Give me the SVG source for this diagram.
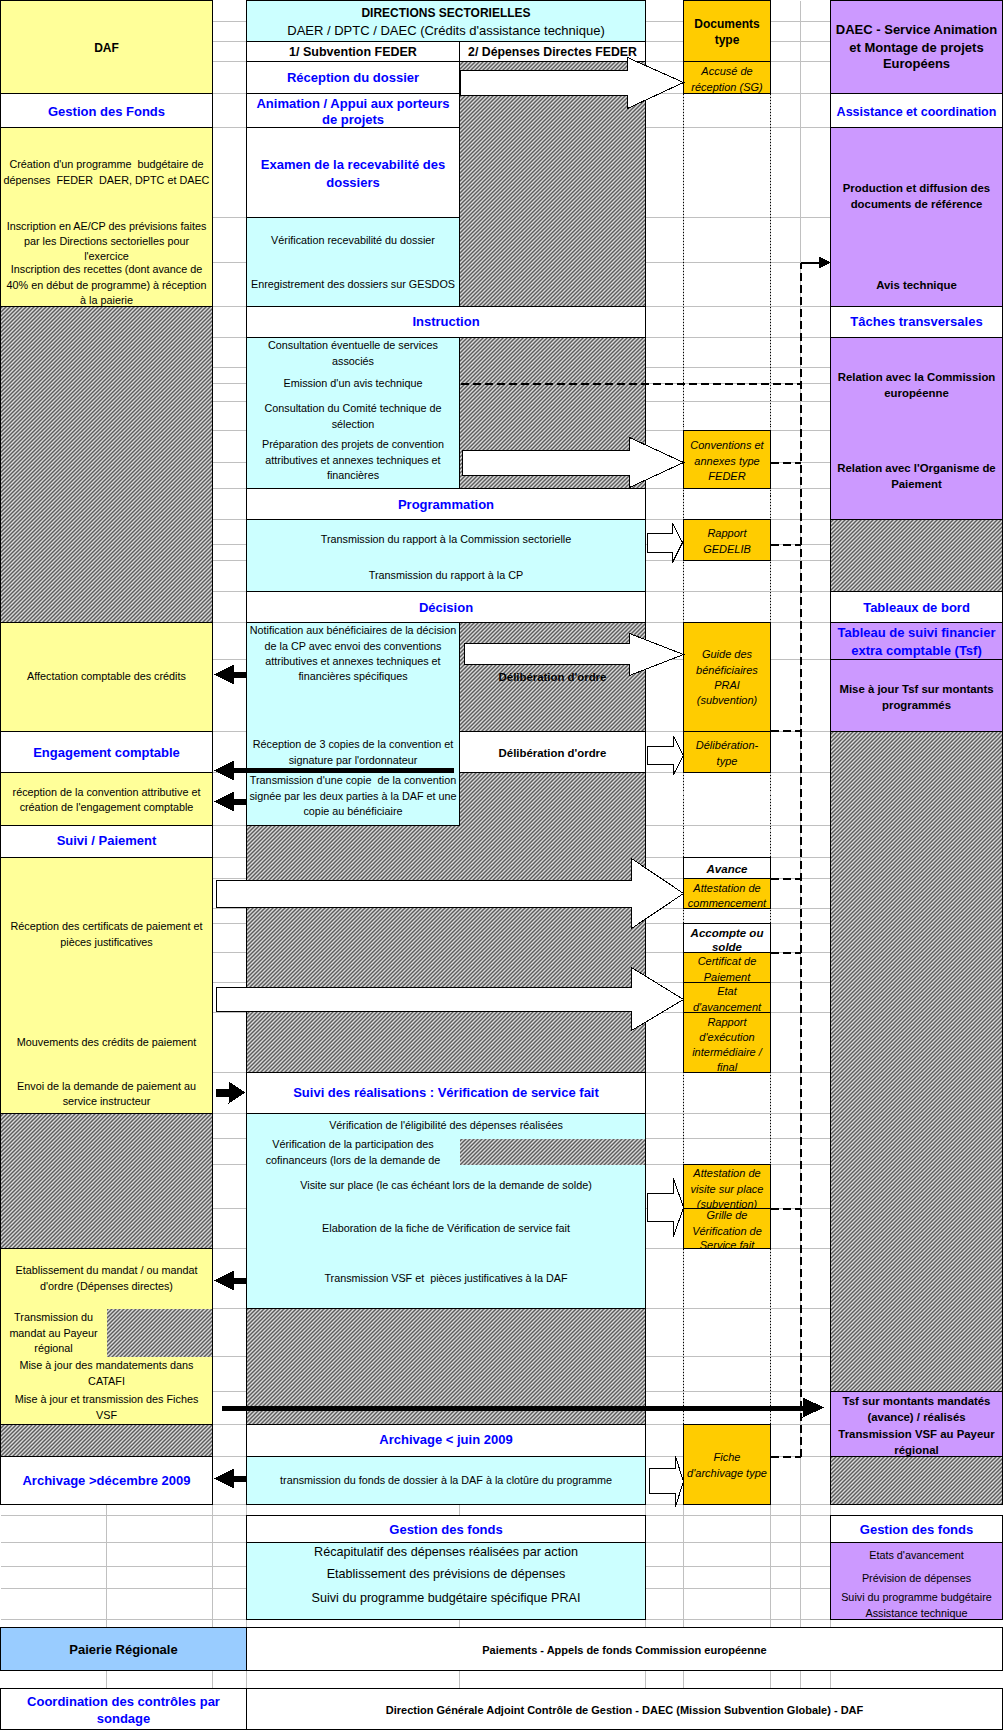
<svg xmlns="http://www.w3.org/2000/svg" width="1003" height="1730" viewBox="0 0 1003 1730">
<style>
.t{font-family:"Liberation Sans",Arial,sans-serif;font-size:10.8px;text-anchor:middle;fill:#000}
.h{font-weight:bold;font-size:13px;fill:#0000FF}
.b{font-weight:bold;font-size:12px}
.bs{font-weight:bold;font-size:11.4px}
.i{font-style:italic;font-size:11px}
.bi{font-weight:bold;font-style:italic;font-size:11.5px}
.c{stroke:#000;stroke-width:1}
.y{fill:#FFFF99}.cy{fill:#CCFFFF}.o{fill:#FFCC00}.p{fill:#CC99FF}.w{fill:#FFFFFF}.lb{fill:#99CCFF}.hx{fill:url(#hatch)}
.ol{fill:none;stroke:#000;stroke-width:1}
.grid{stroke:#C0C0C0;stroke-width:1;fill:none}
.dot{stroke:#000;stroke-width:1;stroke-dasharray:1 2;fill:none}
.dash{stroke:#000;stroke-width:2;stroke-dasharray:8 4;fill:none}
.blk{fill:#FFFFFF;stroke:#000;stroke-width:1}
.arr{fill:#000}
</style>
<defs>
<pattern id="hatch" width="4" height="4" patternUnits="userSpaceOnUse">
<rect width="4" height="4" fill="#FFFFFF"/>
<path d="M-1,1 L1,-1 M0,4 L4,0 M3,5 L5,3" stroke="#000" stroke-width="1.2"/>
</pattern>
</defs>
<rect x="0" y="0" width="1003" height="1730" fill="#FFFFFF"/>
<g transform="translate(0.5,0.5)" shape-rendering="crispEdges">
<g id="gridlines">
<path class="grid" d="M0,21H1002M0,41H1002M0,61H1002M0,93H1002M0,127H1002M0,217H1002M0,262H1002M0,306H1002M0,337H1002M0,367H1002M0,383H1002M0,401H1002M0,430H1002M0,462H1002M0,488H1002M0,519H1002M0,544H1002M0,560H1002M0,591H1002M0,622H1002M0,659H1002M0,731H1002M0,772H1002M0,825H1002M0,857H1002M0,878H1002M0,908H1002M0,923H1002M0,952H1002M0,982H1002M0,1012H1002M0,1072H1002M0,1113H1002M0,1138H1002M0,1164H1002M0,1208H1002M0,1248H1002M0,1308H1002M0,1356H1002M0,1391H1002M0,1424H1002M0,1456H1002M0,1504H1002M0,1515H1002M0,1542H1002M0,1566H1002M0,1588H1002M0,1619H1002M0,1627H1002M0,1670H1002M0,1688H1002"/>
<path class="grid" d="M106,0V1730M212,0V1730M246,0V1730M459,0V1730M645,0V1730M683,0V1730M770,0V1730M800,0V1730M830,0V1730"/>
<path class="dot" d="M683,93V1424M770,93V1424"/>
</g>

<!-- DAF column -->
<g id="daf-header"><rect class="c y" x="0" y="0" width="212" height="93"/><text class="t b" x="106" y="51">DAF</text></g>
<g id="daf-gestion-fonds"><rect class="c w" x="0" y="93" width="212" height="34"/><text class="t h" x="106" y="115.6">Gestion des Fonds</text></g>
<g id="daf-programme">
<rect class="c y" x="0" y="127" width="212" height="179"/>
<text class="t" x="106" y="167.8" xml:space="preserve">Création d'un programme  budgétaire de</text>
<text class="t" x="106" y="183.8" xml:space="preserve">dépenses  FEDER  DAER, DPTC et DAEC</text>
<text class="t" x="106" y="229.8">Inscription en AE/CP des prévisions faites</text>
<text class="t" x="106" y="244.8">par les Directions sectorielles pour</text>
<text class="t" x="106" y="259.8">l'exercice</text>
<text class="t" x="106" y="272.8">Inscription des recettes (dont avance de</text>
<text class="t" x="106" y="288.8">40% en début de programme) à réception</text>
<text class="t" x="106" y="303.8">à la paierie</text>
</g>
<g id="daf-hatch-1"><rect class="c hx" x="0" y="306" width="212" height="316"/></g>
<g id="daf-affectation"><rect class="c y" x="0" y="622" width="212" height="109"/><text class="t" x="106" y="679.8">Affectation comptable des crédits</text></g>
<g id="daf-engagement"><rect class="c w" x="0" y="731" width="212" height="41"/><text class="t h" x="106" y="756.6">Engagement comptable</text></g>
<g id="daf-reception-convention"><rect class="c y" x="0" y="772" width="212" height="53"/>
<text class="t" x="106" y="795.8">réception de la convention attributive et</text>
<text class="t" x="106" y="810.8">création de l'engagement comptable</text></g>
<g id="daf-suivi"><rect class="c w" x="0" y="825" width="212" height="32"/><text class="t h" x="106" y="844.6">Suivi / Paiement</text></g>
<g id="daf-paiement"><rect class="c y" x="0" y="857" width="212" height="256"/>
<text class="t" x="106" y="929.8">Réception des certificats de paiement et</text>
<text class="t" x="106" y="945.8">pièces justificatives</text>
<text class="t" x="106" y="1045.8">Mouvements des crédits de paiement</text>
<text class="t" x="106" y="1089.8">Envoi de la demande de paiement au</text>
<text class="t" x="106" y="1104.8">service instructeur</text></g>
<g id="daf-hatch-2"><rect class="c hx" x="0" y="1113" width="212" height="135"/></g>
<g id="daf-mandat"><rect class="c y" x="0" y="1248" width="212" height="176"/>
<rect class="hx" x="106" y="1308" width="106" height="48"/>
<rect class="ol" x="0" y="1248" width="212" height="176"/>
<text class="t" x="106" y="1273.8">Etablissement du mandat / ou mandat</text>
<text class="t" x="106" y="1289.8">d'ordre (Dépenses directes)</text>
<text class="t" x="53" y="1320.8">Transmission du</text>
<text class="t" x="53" y="1336.8">mandat au Payeur</text>
<text class="t" x="53" y="1351.8">régional</text>
<text class="t" x="106" y="1368.8">Mise à jour des mandatements dans</text>
<text class="t" x="106" y="1384.8">CATAFI</text>
<text class="t" x="106" y="1402.8">Mise à jour et transmission des Fiches</text>
<text class="t" x="106" y="1418.8">VSF</text></g>
<g id="daf-hatch-3"><rect class="c hx" x="0" y="1424" width="212" height="32"/></g>
<g id="daf-archivage"><rect class="c w" x="0" y="1456" width="212" height="48"/><text class="t h" x="106" y="1484.6">Archivage &gt;décembre 2009</text></g>

<!-- Directions sectorielles -->
<g id="dir-header"><rect class="c cy" x="246" y="0" width="399" height="41"/>
<text class="t b" x="445.5" y="16.3">DIRECTIONS SECTORIELLES</text>
<text class="t" style="font-size:13px" x="445.5" y="34.5">DAER / DPTC / DAEC (Crédits d'assistance technique)</text></g>
<g id="dir-sub-1"><rect class="c w" x="246" y="41" width="213" height="20"/><text class="t b" style="font-size:12.5px" x="352.5" y="55.5">1/ Subvention FEDER</text></g>
<g id="dir-sub-2"><rect class="c w" x="459" y="41" width="186" height="20"/><text class="t b" style="font-size:12.3px" x="552" y="55.5">2/ Dépenses Directes FEDER</text></g>
<g id="dir-reception"><rect class="c w" x="246" y="61" width="213" height="32"/><text class="t h" x="352.5" y="81.6">Réception du dossier</text></g>
<g id="dir-hatch-a"><rect class="c hx" x="459" y="61" width="186" height="245"/></g>
<g id="dir-animation"><rect class="c w" x="246" y="93" width="213" height="34"/>
<text class="t h" x="352.5" y="107.6">Animation / Appui aux porteurs</text>
<text class="t h" x="352.5" y="123.6">de projets</text></g>
<g id="dir-examen"><rect class="c w" x="246" y="127" width="213" height="90"/>
<text class="t h" x="352.5" y="168.6">Examen de la recevabilité des</text>
<text class="t h" x="352.5" y="186.6">dossiers</text></g>
<g id="dir-verification"><rect class="c cy" x="246" y="217" width="213" height="89"/>
<text class="t" x="352.5" y="243.8">Vérification recevabilité du dossier</text>
<text class="t" x="352.5" y="287.8">Enregistrement des dossiers sur GESDOS</text></g>
<g id="dir-instruction"><rect class="c w" x="246" y="306" width="399" height="31"/><text class="t h" x="445.5" y="325.6">Instruction</text></g>
<g id="dir-instruction-tasks"><rect class="c cy" x="246" y="337" width="213" height="151"/>
<text class="t" x="352.5" y="348.8">Consultation éventuelle de services</text>
<text class="t" x="352.5" y="364.8">associés</text>
<text class="t" x="352.5" y="386.8">Emission d'un avis technique</text>
<text class="t" x="352.5" y="411.8">Consultation du Comité technique de</text>
<text class="t" x="352.5" y="427.8">sélection</text>
<text class="t" x="352.5" y="447.8">Préparation des projets de convention</text>
<text class="t" x="352.5" y="463.8">attributives et annexes techniques et</text>
<text class="t" x="352.5" y="478.8">financières</text></g>
<g id="dir-hatch-b"><rect class="c hx" x="459" y="337" width="186" height="151"/></g>
<g id="dir-programmation"><rect class="c w" x="246" y="488" width="399" height="31"/><text class="t h" x="445.5" y="508.6">Programmation</text></g>
<g id="dir-transmission-rapport"><rect class="c cy" x="246" y="519" width="399" height="72"/>
<text class="t" x="445.5" y="542.8">Transmission du rapport à la Commission sectorielle</text>
<text class="t" x="445.5" y="578.8">Transmission du rapport à la CP</text></g>
<g id="dir-decision"><rect class="c w" x="246" y="591" width="399" height="31"/><text class="t h" x="445.5" y="611.6">Décision</text></g>
<g id="dir-notification"><rect class="c cy" x="246" y="622" width="213" height="203"/>
<text class="t" x="352.5" y="633.8">Notification aux bénéficiaires de la décision</text>
<text class="t" x="352.5" y="649.8">de la CP avec envoi des conventions</text>
<text class="t" x="352.5" y="664.8">attributives et annexes techniques et</text>
<text class="t" x="352.5" y="679.8">financières spécifiques</text>
<text class="t" x="352.5" y="747.8">Réception de 3 copies de la convention et</text>
<text class="t" x="352.5" y="763.8">signature par l'ordonnateur</text>
<text class="t" x="352.5" y="783.8" xml:space="preserve">Transmission d'une copie  de la convention</text>
<text class="t" x="352.5" y="799.8">signée par les deux parties à la DAF et une</text>
<text class="t" x="352.5" y="814.8">copie au bénéficiaire</text></g>
<g id="dir-hatch-c"><rect class="c hx" x="459" y="622" width="186" height="109"/><text class="t bs" x="552" y="680">Délibération d'ordre</text></g>
<g id="dir-deliberation"><rect class="c w" x="459" y="731" width="186" height="41"/><text class="t bs" x="552" y="756">Délibération d'ordre</text></g>
<g id="dir-hatch-d"><path class="c hx" d="M459,772H645V1072H246V825H459Z"/></g>
<g id="dir-suivi-realisations"><rect class="c w" x="246" y="1072" width="399" height="41"/><text class="t h" x="445.5" y="1096.6">Suivi des réalisations : Vérification de service fait</text></g>
<g id="dir-vsf"><rect class="c cy" x="246" y="1113" width="399" height="195"/>
<rect class="hx" x="459" y="1138" width="186" height="26"/>
<rect class="ol" x="246" y="1113" width="399" height="195"/>
<text class="t" x="445.5" y="1128.8">Vérification de l'éligibilité des dépenses réalisées</text>
<text class="t" x="352.5" y="1147.8">Vérification de la participation des</text>
<text class="t" x="352.5" y="1163.8">cofinanceurs (lors de la demande de</text>
<text class="t" x="445.5" y="1188.8">Visite sur place (le cas échéant lors de la demande de solde)</text>
<text class="t" x="445.5" y="1231.8">Elaboration de la fiche de Vérification de service fait</text>
<text class="t" x="445.5" y="1281.8" xml:space="preserve">Transmission VSF et  pièces justificatives à la DAF</text></g>
<g id="dir-hatch-e"><rect class="c hx" x="246" y="1308" width="399" height="116"/></g>
<g id="dir-archivage"><rect class="c w" x="246" y="1424" width="399" height="32"/><text class="t h" x="445.5" y="1443.6">Archivage &lt; juin 2009</text></g>
<g id="dir-transmission-fonds"><rect class="c cy" x="246" y="1456" width="399" height="48"/><text class="t" x="445.5" y="1483.8">transmission du fonds de dossier à la DAF à la clotûre du programme</text></g>
<g id="dir-gestion-fonds"><rect class="c w" x="246" y="1515" width="399" height="27"/><text class="t h" x="445.5" y="1533">Gestion des fonds</text></g>
<g id="dir-gestion-tasks"><rect class="c cy" x="246" y="1542" width="399" height="77"/>
<text class="t" style="font-size:12.6px" x="445.5" y="1555.5">Récapitulatif des dépenses réalisées par action</text>
<text class="t" style="font-size:12.6px" x="445.5" y="1577.5">Etablissement des prévisions de dépenses</text>
<text class="t" style="font-size:12.6px" x="445.5" y="1601.5">Suivi du programme budgétaire spécifique PRAI</text></g>

<!-- Documents type -->
<g id="doc-header"><rect class="c o" x="683" y="0" width="87" height="61"/>
<text class="t b" x="726.5" y="27.3">Documents</text><text class="t b" x="726.5" y="43.3">type</text></g>
<g id="doc-accuse"><rect class="c o" x="683" y="61" width="87" height="32"/>
<text class="t i" x="726.5" y="74">Accusé de</text><text class="t i" x="726.5" y="90">réception (SG)</text></g>
<g id="doc-conventions"><rect class="c o" x="683" y="430" width="87" height="58"/>
<text class="t i" x="726.5" y="448">Conventions et</text><text class="t i" x="726.5" y="464">annexes type</text><text class="t i" x="726.5" y="479">FEDER</text></g>
<g id="doc-gedelib"><rect class="c o" x="683" y="519" width="87" height="41"/>
<text class="t i" x="726.5" y="536">Rapport</text><text class="t i" x="726.5" y="552">GEDELIB</text></g>
<g id="doc-guide"><rect class="c o" x="683" y="622" width="87" height="109"/>
<text class="t i" x="726.5" y="657">Guide des</text><text class="t i" x="726.5" y="673">bénéficiaires</text><text class="t i" x="726.5" y="688">PRAI</text><text class="t i" x="726.5" y="703">(subvention)</text></g>
<g id="doc-deliberation-type"><rect class="c o" x="683" y="731" width="87" height="41"/>
<text class="t i" x="726.5" y="748">Délibération-</text><text class="t i" x="726.5" y="764">type</text></g>
<g id="doc-avance"><rect class="c w" x="683" y="857" width="87" height="21"/><text class="t bi" x="726.5" y="872">Avance</text></g>
<g id="doc-attestation-commencement"><rect class="c o" x="683" y="878" width="87" height="30"/>
<text class="t i" x="726.5" y="891">Attestation de</text><text class="t i" x="726.5" y="906">commencement</text></g>
<g id="doc-accompte"><rect class="c w" x="683" y="923" width="87" height="29"/>
<text class="t bi" x="726.5" y="936">Accompte ou</text><text class="t bi" x="726.5" y="950">solde</text></g>
<g id="doc-certificat"><rect class="c o" x="683" y="952" width="87" height="30"/>
<text class="t i" x="726.5" y="964">Certificat de</text><text class="t i" x="726.5" y="980">Paiement</text></g>
<g id="doc-etat"><rect class="c o" x="683" y="982" width="87" height="30"/>
<text class="t i" x="726.5" y="994">Etat</text><text class="t i" x="726.5" y="1010">d'avancement</text></g>
<g id="doc-rapport-execution"><rect class="c o" x="683" y="1012" width="87" height="60"/>
<text class="t i" x="726.5" y="1025">Rapport</text><text class="t i" x="726.5" y="1040">d'exécution</text><text class="t i" x="726.5" y="1055">intermédiaire /</text><text class="t i" x="726.5" y="1070">final</text></g>
<g id="doc-attestation-visite"><rect class="c o" x="683" y="1164" width="87" height="44"/>
<text class="t i" x="726.5" y="1176">Attestation de</text><text class="t i" x="726.5" y="1192">visite sur place</text><text class="t i" x="726.5" y="1207">(subvention)</text></g>
<g id="doc-grille"><rect class="c o" x="683" y="1208" width="87" height="40"/>
<text class="t i" x="726.5" y="1218">Grille de</text><text class="t i" x="726.5" y="1234">Vérification de</text><text class="t i" x="726.5" y="1248">Service fait</text></g>
<g id="doc-fiche-archivage"><rect class="c o" x="683" y="1424" width="87" height="80"/>
<text class="t i" x="726.5" y="1460">Fiche</text><text class="t i" x="726.5" y="1476">d'archivage type</text></g>

<!-- DAEC -->
<g id="daec-header"><rect class="c p" x="830" y="0" width="172" height="93"/>
<text class="t b" style="font-size:13px" x="916" y="33.5">DAEC - Service Animation</text>
<text class="t b" style="font-size:13px" x="916" y="51.5">et Montage de projets</text>
<text class="t b" style="font-size:13px" x="916" y="67.5">Européens</text></g>
<g id="daec-assistance"><rect class="c w" x="830" y="93" width="172" height="34"/><text class="t h" style="font-size:12.5px" x="916" y="115.6">Assistance et coordination</text></g>
<g id="daec-production"><rect class="c p" x="830" y="127" width="172" height="179"/>
<text class="t bs" x="916" y="191">Production et diffusion des</text>
<text class="t bs" x="916" y="207">documents de référence</text>
<text class="t bs" x="916" y="288">Avis technique</text></g>
<g id="daec-taches"><rect class="c w" x="830" y="306" width="172" height="31"/><text class="t h" x="916" y="325.6">Tâches transversales</text></g>
<g id="daec-relations"><rect class="c p" x="830" y="337" width="172" height="182"/>
<text class="t bs" x="916" y="380">Relation avec la Commission</text>
<text class="t bs" x="916" y="396">européenne</text>
<text class="t bs" x="916" y="471">Relation avec l'Organisme de</text>
<text class="t bs" x="916" y="487">Paiement</text></g>
<g id="daec-hatch-1"><rect class="c hx" x="830" y="519" width="172" height="72"/></g>
<g id="daec-tableaux"><rect class="c w" x="830" y="591" width="172" height="31"/><text class="t h" x="916" y="611.6">Tableaux de bord</text></g>
<g id="daec-tsf"><rect class="c p" x="830" y="622" width="172" height="37"/>
<text class="t h" x="916" y="636.6">Tableau de suivi financier</text>
<text class="t h" x="916" y="654.6">extra comptable (Tsf)</text></g>
<g id="daec-maj-tsf"><rect class="c p" x="830" y="659" width="172" height="72"/>
<text class="t bs" x="916" y="692">Mise à jour Tsf sur montants</text>
<text class="t bs" x="916" y="708">programmés</text></g>
<g id="daec-hatch-2"><rect class="c hx" x="830" y="731" width="172" height="660"/></g>
<g id="daec-tsf-mandates"><rect class="c p" x="830" y="1391" width="172" height="65"/>
<text class="t bs" x="916" y="1404">Tsf sur montants mandatés</text>
<text class="t bs" x="916" y="1420">(avance) / réalisés</text>
<text class="t bs" x="916" y="1437">Transmission VSF au Payeur</text>
<text class="t bs" x="916" y="1453">régional</text></g>
<g id="daec-hatch-3"><rect class="c hx" x="830" y="1456" width="172" height="48"/></g>
<g id="daec-gestion-fonds"><rect class="c w" x="830" y="1515" width="172" height="27"/><text class="t h" x="916" y="1533">Gestion des fonds</text></g>
<g id="daec-gestion-tasks"><rect class="c p" x="830" y="1542" width="172" height="77"/>
<text class="t" x="916" y="1558">Etats d'avancement</text>
<text class="t" x="916" y="1581">Prévision de dépenses</text>
<text class="t" x="916" y="1600">Suivi du programme budgétaire</text>
<text class="t" x="916" y="1616">Assistance technique</text></g>

<!-- bottom rows -->
<g id="paierie"><rect class="c lb" x="0" y="1627" width="246" height="43"/><text class="t b" style="font-size:13px" x="123" y="1653.6">Paierie Régionale</text></g>
<g id="paiements"><rect class="c w" x="246" y="1627" width="756" height="43"/><text class="t b" style="font-size:11px" x="624" y="1653">Paiements - Appels de fonds Commission européenne</text></g>
<g id="coordination"><rect class="c w" x="0" y="1688" width="246" height="41"/>
<text class="t h" x="123" y="1705.6">Coordination des contrôles par</text>
<text class="t h" x="123" y="1722.6">sondage</text></g>
<g id="direction-generale"><rect class="c w" x="246" y="1688" width="756" height="41"/><text class="t b" style="font-size:11px" x="624" y="1713">Direction Générale Adjoint Contrôle de Gestion - DAEC (Mission Subvention Globale) - DAF</text></g>

<!-- connectors -->
<g id="connectors">
<path class="blk" d="M460,70H627V57L683,82L627,108V95H460Z"/>
<path class="blk" d="M462,450H629V437L683,462L629,487V475H462Z"/>
<path class="blk" d="M647,533H672V523L682,542L672,562V552H647Z"/>
<path class="blk" d="M464,643H629V633L683,654L629,675V664H464Z"/>
<path class="blk" d="M647,746H673V736L683,755L673,774V764H647Z"/>
<path class="blk" d="M216,880H631V858L683,893L631,928V907H216Z"/>
<path class="blk" d="M216,987H631V967L683,999L631,1030V1011H216Z"/>
<path class="blk" d="M647,1193H673V1178L683,1207L673,1236V1221H647Z"/>
<path class="blk" d="M649,1468H675V1456L683,1481L675,1506V1493H649Z"/>
<path class="dash" d="M800,1456V262"/>
<path class="dash" d="M460,383H800"/>
<path class="dash" d="M770,462H800M770,544H800M770,730H800M770,878H800M770,952H800M770,1208H800M770,1456H800"/>
<path d="M800,262H819" stroke="#000" stroke-width="2" fill="none"/>
<path class="arr" d="M818,256L830,262L818,268Z"/>
<path class="arr" d="M246,671V677H233V684L213,674L233,664V671Z"/>
<path class="arr" d="M453,767V772H233V780L213,770L233,760V767Z"/>
<path class="arr" d="M246,798V804H233V811L213,801L233,791V798Z"/>
<path class="arr" d="M215,1088H228V1081L245,1092L228,1103V1096H215Z"/>
<path class="arr" d="M246,1277V1283H233V1290L213,1280L233,1270V1277Z"/>
<path class="arr" d="M246,1475V1481H233V1488L213,1478L233,1468V1475Z"/>
<path class="arr" d="M221,1405H802V1397L824,1407L802,1417V1410H221Z"/>
</g>
</g>
</svg>
